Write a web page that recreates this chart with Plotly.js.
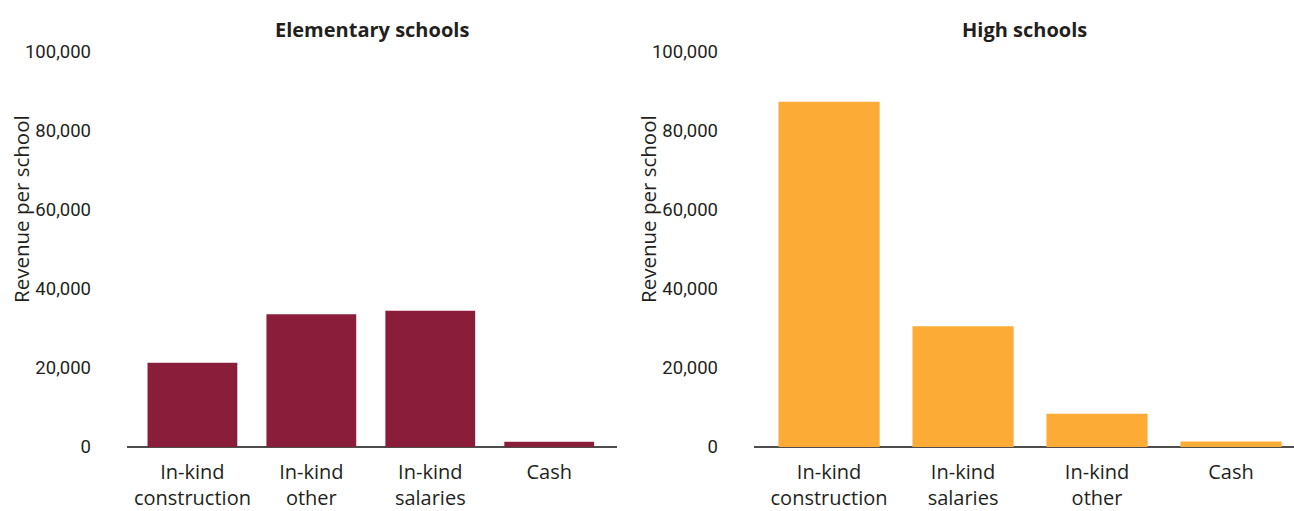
<!DOCTYPE html>
<html>
<head>
<meta charset="utf-8">
<script src="https://cdn.plot.ly/plotly-3.0.1.min.js"></script>
<style>html,body{margin:0;padding:0;background:#fff;}#chart{width:1294px;height:511px;}</style>
</head>
<body>
<div id="chart"></div>
<script>
// Data
const elemCategories = ["In-kind<br>construction", "In-kind<br>other", "In-kind<br>salaries", "Cash"];
const elemValues = [21300, 33600, 34500, 1300];
const highCategories = ["In-kind<br>construction", "In-kind<br>salaries", "In-kind<br>other", "Cash"];
const highValues = [87400, 30600, 8400, 1400];
const yTickValues = [0, 20000, 40000, 60000, 80000, 100000];
const yTickLabels = ["0", "20,000", "40,000", "60,000", "80,000", "100,000"];
const panelTitles = ["Elementary schools", "High schools"];
const yTitle = "Revenue per school";

const FONT = "Open Sans, sans-serif";
const NUMFONT = "Roboto, sans-serif";
const TXT = "#231f20";

const traces = [
  {type: "bar", x: elemCategories, y: elemValues, xaxis: "x", yaxis: "y",
   marker: {color: "#8a1d3a"}, hoverinfo: "y"},
  {type: "bar", x: highCategories, y: highValues, xaxis: "x2", yaxis: "y2",
   marker: {color: "#fbab36"}, hoverinfo: "y"}
];

const W = 1294;
function xAxis(d, r) {
  return {domain: d, range: r, showgrid: false, zeroline: false, showline: false,
    ticks: "", tickfont: {family: FONT, size: 20, color: TXT}, ticklabelstandoff: 11, fixedrange: true};
}
function yAxis(anchor) {
  return {range: [0, 100000], anchor: anchor, tickvals: yTickValues, ticktext: yTickLabels,
    showgrid: false, zeroline: true, zerolinecolor: "#4d4d4d", zerolinewidth: 1.5, showline: false,
    ticks: "", tickfont: {family: NUMFONT, size: 18.5, color: TXT}, ticklabelstandoff: 35, fixedrange: true};
}

const layout = {
  width: 1294, height: 511,
  margin: {l: 0, r: 0, t: 52, b: 64},
  paper_bgcolor: "#fff", plot_bgcolor: "#fff",
  showlegend: false, bargap: 0.245,
  font: {family: FONT, color: TXT},
  xaxis: xAxis([127 / W, 617 / W], [-0.55, 3.57]),
  xaxis2: xAxis([754 / W, 1], [-0.56, 3.47]),
  yaxis: yAxis("x"),
  yaxis2: yAxis("x2"),
  annotations: [
    {text: "<b>" + panelTitles[0] + "</b>", xref: "paper", yref: "paper", x: 372 / W, y: 1, yshift: 23,
     xanchor: "center", yanchor: "middle", showarrow: false, font: {family: FONT, size: 20, color: TXT}},
    {text: "<b>" + panelTitles[1] + "</b>", xref: "paper", yref: "paper", x: 1024 / W, y: 1, yshift: 23,
     xanchor: "center", yanchor: "middle", showarrow: false, font: {family: FONT, size: 20, color: TXT}},
    {text: yTitle, xref: "paper", yref: "paper", x: 21 / W, y: (447 - 209) / 395, textangle: -90,
     xanchor: "center", yanchor: "middle", showarrow: false, font: {family: FONT, size: 20.5, color: TXT}},
    {text: yTitle, xref: "paper", yref: "paper", x: 648 / W, y: (447 - 209) / 395, textangle: -90,
     xanchor: "center", yanchor: "middle", showarrow: false, font: {family: FONT, size: 20.5, color: TXT}}
  ]
};

Plotly.newPlot("chart", traces, layout, {displayModeBar: false, staticPlot: true});
</script>
</body>
</html>
